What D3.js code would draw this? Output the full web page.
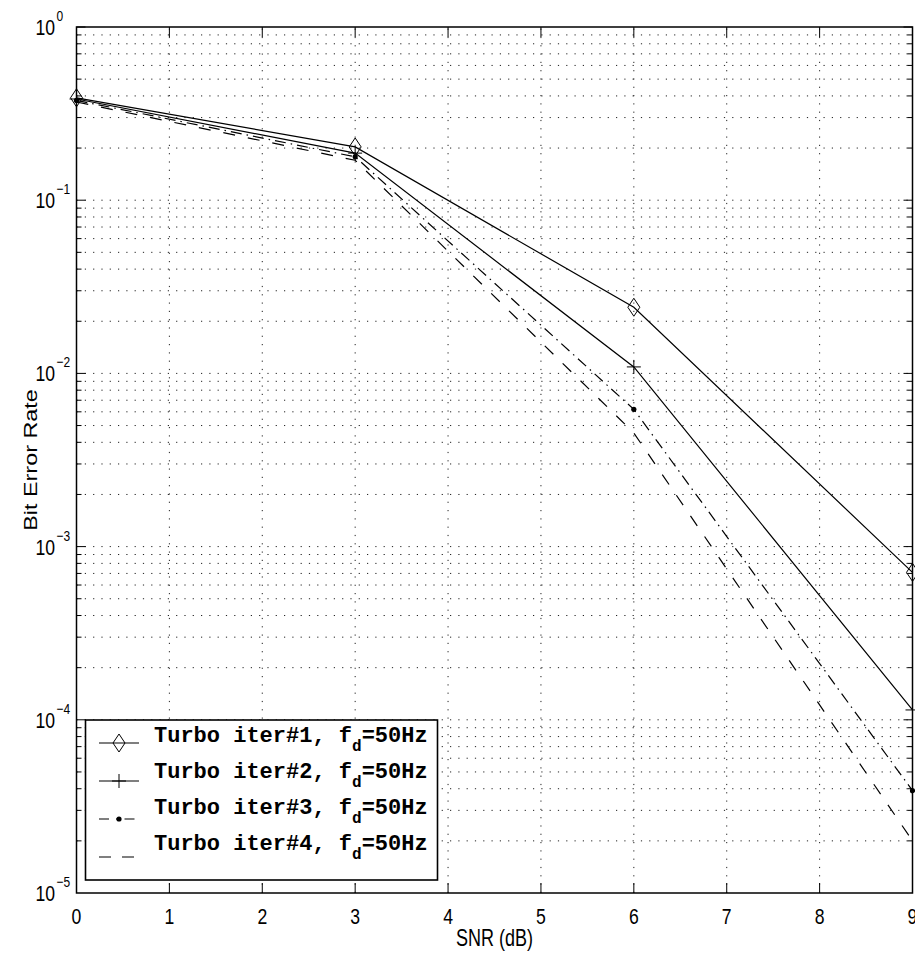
<!DOCTYPE html>
<html>
<head>
<meta charset="utf-8">
<script src="https://cdn.jsdelivr.net/npm/d3@7"></script>
<style>
  html, body { margin: 0; padding: 0; background: #fff; }
  svg { display: block; }
</style>
</head>
<body>
<svg id="chart" width="915" height="959"></svg>
<script>
// SNR points (dB) and bit error rate for each turbo decoding iteration
const snr = [0, 3, 6, 9];
const berIter1 = [0.39, 0.203, 0.0241, 7.1e-4];
const berIter2 = [0.384, 0.187, 0.0109, 1.14e-4];
const berIter3 = [0.377, 0.178, 0.0062, 3.9e-5];
const berIter4 = [0.369, 0.170, 0.00453, 2.0e-5];

const xTicks = [0, 1, 2, 3, 4, 5, 6, 7, 8, 9];
const yDecades = [0, -1, -2, -3, -4, -5];
const legendLabels = ["Turbo iter#1, f", "Turbo iter#2, f", "Turbo iter#3, f", "Turbo iter#4, f"];
const legendSub = "d";
const legendTail = "=50Hz";

const svg = d3.select("#chart");
const L = 76.5, R = 912.5, T = 27, B = 893;

const x = d3.scaleLinear().domain([0, 9]).range([L, R]);
const y = d3.scaleLog().domain([1e-5, 1]).range([B, T]);

// dotted grid
const grid = svg.append("g").attr("stroke", "#222").attr("stroke-width", 1)
  .attr("stroke-dasharray", "1.2,7.1");
xTicks.slice(1, -1).forEach(v => {
  grid.append("line").attr("x1", x(v)).attr("x2", x(v)).attr("y1", B).attr("y2", T);
});
const yGridVals = [];
for (let e = -5; e < 0; e++) {
  for (let m = 1; m <= 9; m++) {
    const v = m * Math.pow(10, e);
    if (v > 1e-5) yGridVals.push(v);
  }
}
yGridVals.forEach(v => {
  grid.append("line").attr("x1", L).attr("x2", R).attr("y1", y(v)).attr("y2", y(v));
});

// ticks on all four sides, pointing inward
const ticks = svg.append("g").attr("stroke", "#000").attr("stroke-width", 1);
xTicks.forEach(v => {
  ticks.append("line").attr("x1", x(v)).attr("x2", x(v)).attr("y1", B).attr("y2", B - 10);
  ticks.append("line").attr("x1", x(v)).attr("x2", x(v)).attr("y1", T).attr("y2", T + 10);
});
yGridVals.concat([1]).forEach(v => {
  const major = Math.abs(Math.log10(v) - Math.round(Math.log10(v))) < 1e-9;
  const len = major ? 9 : 5;
  ticks.append("line").attr("x1", L).attr("x2", L + len).attr("y1", y(v)).attr("y2", y(v));
  ticks.append("line").attr("x1", R).attr("x2", R - len).attr("y1", y(v)).attr("y2", y(v));
});

// axes box
svg.append("rect").attr("x", L).attr("y", T).attr("width", R - L).attr("height", B - T)
  .attr("fill", "none").attr("stroke", "#000").attr("stroke-width", 1.5);

// tick labels
const font = "'Liberation Sans', Arial, Helvetica, sans-serif";
xTicks.forEach(v => {
  svg.append("text")
    .attr("transform", `translate(${x(v)},${B + 31}) scale(0.8,1)`)
    .attr("text-anchor", "middle").attr("font-family", font).attr("font-size", 22)
    .text(v);
});
yDecades.forEach(e => {
  const g = svg.append("g").attr("transform", `translate(55,${y(Math.pow(10, e)) + 8}) scale(0.8,1)`);
  g.append("text").attr("text-anchor", "end").attr("font-family", font).attr("font-size", 22).text("10");
  g.append("text").attr("x", 2).attr("y", -14).attr("font-family", font).attr("font-size", 15)
    .text(e === 0 ? "0" : "\u2212" + (-e));
});

// axis titles
svg.append("text")
  .attr("transform", `translate(${(L + R) / 2},${946}) scale(1,1.3)`)
  .attr("text-anchor", "middle").attr("font-family", font).attr("font-size", 18)
  .text("SNR (dB)");
svg.append("text")
  .attr("transform", `translate(37,${(T + B) / 2}) scale(1,1.3) rotate(-90)`)
  .attr("text-anchor", "middle").attr("font-family", font).attr("font-size", 18)
  .text("Bit Error Rate");

// series
const series = [
  { data: berIter1, dash: null, marker: "diamond" },
  { data: berIter2, dash: null, marker: "plus" },
  { data: berIter3, dash: "11,5,1.5,5", marker: "dot" },
  { data: berIter4, dash: "12,13", marker: null }
];

const line = d3.line().x(d => x(d[0])).y(d => y(d[1]));

function drawMarker(g, kind, cx, cy) {
  if (kind === "diamond") {
    g.append("path").attr("d", `M${cx},${cy - 9}L${cx + 6},${cy}L${cx},${cy + 9}L${cx - 6},${cy}Z`)
      .attr("fill", "none").attr("stroke", "#000").attr("stroke-width", 1);
  } else if (kind === "plus") {
    g.append("path").attr("d", `M${cx - 7},${cy}H${cx + 7}M${cx},${cy - 7}V${cy + 7}`)
      .attr("stroke", "#000").attr("stroke-width", 1);
  } else if (kind === "dot") {
    g.append("circle").attr("cx", cx).attr("cy", cy).attr("r", 2.6).attr("fill", "#000");
  }
}

const plot = svg.append("g");
series.forEach(s => {
  const pts = snr.map((v, i) => [v, s.data[i]]);
  plot.append("path").datum(pts).attr("d", line)
    .attr("fill", "none").attr("stroke", "#000").attr("stroke-width", 1.2)
    .attr("stroke-dasharray", s.dash);
  pts.forEach(p => drawMarker(plot, s.marker, x(p[0]), y(p[1])));
});

// legend
const leg = svg.append("g");
leg.append("rect").attr("x", 85.5).attr("y", 720).attr("width", 352).attr("height", 160)
  .attr("fill", "#fff").attr("stroke", "#000").attr("stroke-width", 1.6);
const sampleY = [743, 781, 819, 857];
const textY = [742, 778, 814, 850];
const legendDash = [null, null, "10,7,1.5,7", "12,11"];
series.forEach((s, i) => {
  leg.append("line").attr("x1", 99).attr("x2", 139).attr("y1", sampleY[i]).attr("y2", sampleY[i])
    .attr("stroke", "#000").attr("stroke-width", 1.2).attr("stroke-dasharray", legendDash[i]);
  drawMarker(leg, s.marker, 119, sampleY[i]);
  const t = leg.append("text").attr("x", 154).attr("y", textY[i])
    .attr("font-family", "'Liberation Mono', 'Courier New', monospace")
    .attr("font-weight", "bold").attr("font-size", 22)
    .attr("xml:space", "preserve");
  t.append("tspan").text(legendLabels[i]);
  t.append("tspan").attr("font-size", 16).attr("dy", 9).text(legendSub);
  t.append("tspan").attr("dy", -9).text(legendTail);
});
</script>
</body>
</html>
